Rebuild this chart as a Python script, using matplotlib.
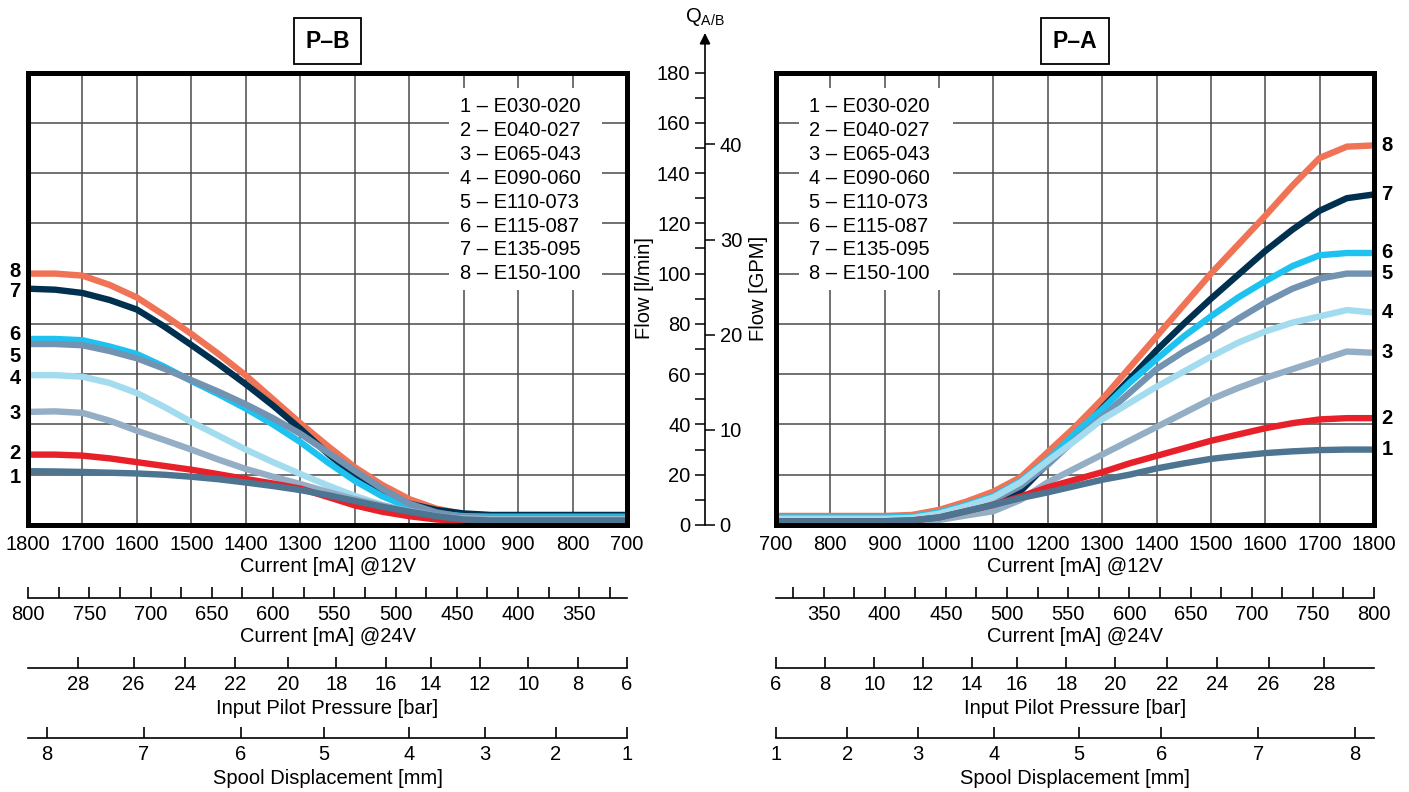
import numpy as np
import matplotlib
matplotlib.use("Agg")
import matplotlib.pyplot as plt
from matplotlib.patches import Rectangle
import matplotlib.transforms as mtransforms

plt.rcParams['font.family'] = ['Liberation Sans', 'DejaVu Sans']
plt.rcParams['mathtext.default'] = 'regular'

# ---- data ----
NAMES = ["E030-020", "E040-027", "E065-043", "E090-060",
         "E110-073", "E115-087", "E135-095", "E150-100"]
COLORS = ["#4d7490", "#e8202a", "#94afc5", "#a3dcef",
          "#7393b3", "#1ec2f0", "#00304f", "#f07355"]

# P-B (current falls from 1800 to 700 mA @12V)
PB_I = [1800, 1750, 1700, 1650, 1600, 1550, 1500, 1450, 1400, 1350,
        1300, 1250, 1200, 1150, 1100, 1050, 1000, 950, 700]
PB = [
    [21.4, 21.3, 21.1, 20.8, 20.5, 20.0, 19.2, 18.2, 16.9, 15.5, 13.9, 11.9, 9.6, 7.3, 5.3, 3.5, 2.2, 1.8, 1.8],
    [28.0, 28.0, 27.6, 26.5, 25.0, 23.5, 22.0, 20.2, 18.3, 16.5, 14.5, 11.2, 7.8, 5.3, 3.5, 2.2, 1.5, 1.4, 1.4],
    [45.0, 45.2, 44.6, 41.5, 37.5, 33.8, 30.0, 26.0, 22.3, 19.2, 16.3, 13.2, 10.3, 7.8, 5.6, 3.6, 2.5, 2.2, 2.2],
    [59.6, 59.6, 59.0, 56.5, 52.5, 47.0, 41.0, 35.5, 30.0, 25.0, 20.3, 15.8, 11.6, 8.0, 5.0, 3.2, 2.5, 2.3, 2.3],
    [72.0, 72.0, 71.5, 69.2, 66.3, 62.2, 57.6, 53.0, 48.0, 42.5, 36.3, 29.0, 21.6, 14.5, 8.5, 5.0, 3.2, 2.8, 2.8],
    [74.0, 74.0, 73.5, 71.0, 68.0, 63.0, 57.3, 52.0, 46.3, 40.0, 33.0, 25.0, 17.6, 11.5, 7.0, 4.5, 3.5, 3.3, 3.3],
    [94.0, 93.6, 92.3, 89.5, 85.7, 79.0, 71.6, 64.0, 56.0, 47.5, 38.3, 28.5, 19.5, 13.0, 8.5, 6.0, 4.6, 4.0, 4.0],
    [100.0, 100.0, 99.2, 95.5, 90.5, 83.5, 76.0, 68.0, 59.5, 50.0, 40.5, 31.5, 23.0, 16.0, 10.3, 6.5, 4.3, 3.8, 3.8],
]
PB_LABEL_Y = [18.7, 28.6, 44.5, 58.4, 67.2, 75.8, 92.7, 100.7]

# P-A (current rises from 700 to 1800 mA @12V)
PA_I = [700, 900, 950, 1000, 1050, 1100, 1150, 1200, 1250, 1300,
        1350, 1400, 1450, 1500, 1550, 1600, 1650, 1700, 1750, 1800]
PA = [
    [1.5, 1.5, 1.8, 3.0, 5.5, 8.0, 10.7, 13.0, 15.5, 18.0, 20.0, 22.5, 24.5, 26.3, 27.5, 28.6, 29.3, 29.8, 30.0, 30.0],
    [1.5, 1.5, 1.8, 3.0, 5.5, 8.0, 11.3, 15.0, 18.0, 21.0, 24.5, 27.5, 30.5, 33.5, 36.0, 38.5, 40.5, 42.0, 42.5, 42.5],
    [1.2, 1.2, 1.3, 2.0, 3.8, 5.5, 10.0, 17.0, 22.5, 28.0, 33.5, 39.0, 44.5, 50.0, 54.5, 58.5, 62.0, 65.5, 69.0, 68.5],
    [2.5, 2.5, 2.8, 4.5, 7.5, 11.0, 17.0, 25.5, 33.5, 42.0, 48.5, 55.0, 61.0, 67.0, 72.5, 77.0, 80.5, 83.0, 85.5, 84.5],
    [2.2, 2.2, 2.5, 4.0, 7.0, 10.0, 15.5, 24.0, 34.0, 43.0, 52.5, 62.0, 69.0, 75.0, 82.0, 88.5, 94.0, 98.0, 100.0, 100.0],
    [3.0, 3.0, 3.3, 5.0, 8.0, 11.5, 17.5, 26.0, 36.5, 46.0, 56.5, 66.0, 75.0, 83.0, 90.5, 97.0, 103.0, 107.3, 108.2, 108.2],
    [2.0, 2.0, 2.3, 4.0, 7.0, 10.0, 13.5, 24.5, 35.0, 46.5, 58.0, 69.5, 80.0, 90.0, 99.5, 109.0, 117.5, 125.0, 130.0, 131.5],
    [3.6, 3.6, 4.0, 6.0, 9.3, 13.3, 19.0, 29.0, 39.0, 50.0, 62.5, 75.0, 87.5, 100.0, 111.5, 123.0, 135.0, 146.0, 150.5, 151.0],
]

CURRENT_12V = list(range(700, 1801, 100))
CURRENT_24V = list(range(325, 801, 25))
V24_RATIO = 2.25                      # mA@12V per mA@24V
PRESSURE_BAR = [6, 8, 10, 12, 14, 16, 18, 20, 22, 24, 26, 28]
PRESSURE_AT_MA = [700, 790, 881, 970, 1060, 1143, 1234, 1323, 1420, 1512, 1606, 1708]
SPOOL_MM = [1, 2, 3, 4, 5, 6, 7, 8]
SPOOL_AT_MA = [700, 831, 961, 1101, 1257, 1409, 1587, 1765]
FLOW_LPM = list(range(0, 181, 10))
FLOW_GPM = [0, 10, 20, 30, 40]
L_PER_GAL = 3.785

# ---- layout helpers (pixel based) ----
W, H = 1409, 792
fig = plt.figure(figsize=(W / 100, H / 100), dpi=100)
fx = lambda px: px / W
fy = lambda px: 1 - px / H
TOP, BOT = 72.5, 525
FS = 14.5


def panel(x0, w, xlim, xs, series, leg_box, leg_x, lab_x, lab_ys):
    ax = fig.add_axes([fx(x0), fy(BOT), fx(w), (BOT - TOP) / H])
    ax.set_xlim(*xlim)
    ax.set_ylim(0, 180)
    ax.set_xticks(CURRENT_12V)
    ax.set_xticklabels([str(c) for c in CURRENT_12V])
    ax.set_yticks(range(0, 181, 20))
    ax.set_yticklabels([])
    ax.tick_params(length=0)
    ax.tick_params(axis="x", pad=7, labelsize=FS)
    ax.grid(True, color="#4a4a4a", lw=1.1)
    ax.set_axisbelow(True)
    for s in ax.spines.values():
        s.set_linewidth(3.6)
    ax.add_patch(Rectangle((leg_box[0], leg_box[2]), leg_box[1] - leg_box[0],
                           leg_box[3] - leg_box[2], transform=ax.transAxes,
                           fc="white", ec="none", zorder=1))
    for i in range(7, -1, -1):
        ax.plot(xs, series[i], color=COLORS[i], lw=4.6,
                solid_joinstyle="round", solid_capstyle="butt", zorder=2)
    for i, n in enumerate(NAMES):
        yy = (BOT - (107 + 23.8 * i)) / (BOT - TOP)
        ax.text(leg_x, yy, f"{i + 1} \u2013 {n}", transform=ax.transAxes,
                fontsize=FS, va="center", ha="left", zorder=3)
    tr = mtransforms.blended_transform_factory(ax.transAxes, ax.transData)
    for i in range(8):
        ax.text(lab_x, lab_ys[i], str(i + 1), transform=tr, fontsize=14.5,
                fontweight="bold", ha="center", va="center", clip_on=False)
    return ax


pb = panel(28, 599, (1800, 700), PB_I, PB, (0.703, 0.958, 0.519, 0.966),
           0.722, -0.022, PB_LABEL_Y)
pa = panel(776, 598, (700, 1800), PA_I, PA, (0.038, 0.296, 0.519, 0.966),
           0.056, 1.022, [s[-1] for s in PA])

for cx, t in [(327.5, "P\u2013B"), (1075, "P\u2013A")]:
    fig.text(fx(cx), fy(41), t, fontsize=16.5, fontweight="bold", ha="center",
             va="center", bbox=dict(boxstyle="square,pad=0.5", fc="white",
                                    ec="black", lw=1.3))


def scale_row(x0, w, ypx, xlim, ticks, labels):
    a = fig.add_axes([fx(x0), fy(ypx), fx(w), 1e-4])
    a.set_xlim(*xlim)
    a.set_ylim(0, 1)
    for s in ["left", "right", "top"]:
        a.spines[s].set_visible(False)
    a.spines["bottom"].set_linewidth(1.2)
    a.set_yticks([])
    a.set_xticks(ticks)
    a.set_xticklabels(labels)
    a.tick_params(axis="x", direction="in", length=8, width=1.2, pad=5,
                  labelsize=FS)
    a.patch.set_visible(False)


lab24 = [str(c) if c % 50 == 0 else "" for c in CURRENT_24V]
pos24 = [c * V24_RATIO for c in CURRENT_24V]
for x0, w, xlim, cx in [(28, 599, (1800, 700), 327.5), (776, 598, (700, 1800), 1075)]:
    scale_row(x0, w, 598, xlim, pos24, lab24)
    scale_row(x0, w, 668, xlim, PRESSURE_AT_MA, [str(p) for p in PRESSURE_BAR])
    scale_row(x0, w, 738, xlim, SPOOL_AT_MA, [str(s) for s in SPOOL_MM])
    for ypx, t in [(566, "Current [mA] @12V"), (636, "Current [mA] @24V"),
                   (709, "Input Pilot Pressure [bar]"),
                   (778, "Spool Displacement [mm]")]:
        fig.text(fx(cx), fy(ypx), t, fontsize=FS, ha="center", va="center")

# ---- central flow axis ----
axc = fig.add_axes([fx(705), fy(BOT), 1e-4, (BOT - TOP) / H])
axc.set_ylim(0, 180)
axc.set_xticks([])
axc.set_yticks(FLOW_LPM)
axc.set_yticklabels([str(v) if v % 20 == 0 else "" for v in FLOW_LPM])
axc.tick_params(axis="y", length=7.5, width=1.1, pad=3, labelsize=FS)
for s in axc.spines.values():
    s.set_visible(False)
axc.patch.set_visible(False)
axg = axc.twinx()
axg.set_ylim(0, 180 / L_PER_GAL)
axg.set_yticks(FLOW_GPM)
axg.tick_params(axis="y", length=7.5, width=1.1, pad=3, labelsize=FS)
for s in axg.spines.values():
    s.set_visible(False)
axc.annotate("", xy=(0, (BOT - 33) / (BOT - TOP)), xytext=(0, 0),
             xycoords="axes fraction",
             arrowprops=dict(arrowstyle="-|>", color="black", lw=1.2,
                             mutation_scale=16, shrinkA=0, shrinkB=0),
             annotation_clip=False)
fig.text(fx(705), fy(17), r"$Q_{A/B}$", fontsize=FS, ha="center", va="center")
fig.text(fx(645), fy(288), "Flow [l/min]", fontsize=FS, rotation=90,
         ha="center", va="center")
fig.text(fx(758), fy(288), "Flow [GPM]", fontsize=FS, rotation=90,
         ha="center", va="center")

fig.savefig("out.png", dpi=100)
